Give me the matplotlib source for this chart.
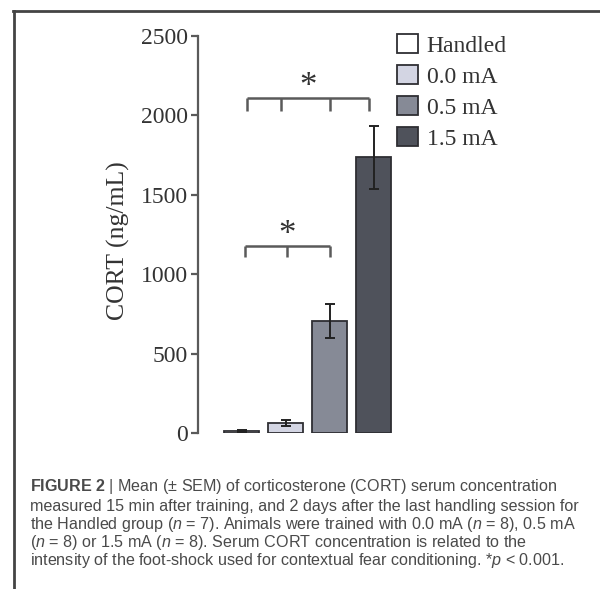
import matplotlib
matplotlib.use("Agg")
import matplotlib.pyplot as plt
from matplotlib.lines import Line2D

groups = ["Handled", "0.0 mA", "0.5 mA", "1.5 mA"]
means = [10, 65, 705, 1735]
sems = [6, 18, 105, 200]
colors = ["#ffffff", "#d3d5e3", "#868a96", "#4f525b"]
yticks = [0, 500, 1000, 1500, 2000, 2500]

caption_lines = [
    r"$\bf{FIGURE\ 2}$ | Mean (± SEM) of corticosterone (CORT) serum concentration",
    "measured 15 min after training, and 2 days after the last handling session for",
    r"the Handled group ($n$ = 7). Animals were trained with 0.0 mA ($n$ = 8), 0.5 mA",
    r"($n$ = 8) or 1.5 mA ($n$ = 8). Serum CORT concentration is related to the",
    r"intensity of the foot-shock used for contextual fear conditioning. *$p$ < 0.001.",
]

serif = ["Liberation Serif", "DejaVu Serif"]
plt.rcParams["mathtext.fontset"] = "custom"
plt.rcParams["mathtext.rm"] = "Liberation Sans"
plt.rcParams["mathtext.it"] = "Liberation Sans:italic"
plt.rcParams["mathtext.bf"] = "Liberation Sans:bold"

W, H = 600, 589
fig = plt.figure(figsize=(6, 5.89), dpi=100)
ax = fig.add_axes([198 / W, 1 - 433 / H, (400 - 198) / W, (433 - 36) / H])

x = list(range(len(groups)))
bars = ax.bar(x, means, width=0.8, color=colors, edgecolor="#2e2e33", linewidth=1.3,
              yerr=sems, error_kw=dict(ecolor="#222222", elinewidth=1.4, capsize=3.5, capthick=1.4),
              zorder=2)

ax.set_xlim(-1.0, 3.6)
ax.set_ylim(0, 2500)
for s in ["top", "right", "bottom"]:
    ax.spines[s].set_visible(False)
ax.spines["left"].set_color("#5a5a5a")
ax.spines["left"].set_linewidth(1.6)
ax.set_xticks([])
ax.set_yticks(yticks)
ax.set_yticklabels([str(v) for v in yticks], fontfamily=serif, fontsize=17, color="#333333")
ax.tick_params(axis="y", direction="out", length=5, width=1.6, color="#5a5a5a", pad=2)

fig.text(118 / W, 1 - 241 / H, "CORT (ng/mL)", rotation=90, ha="center", va="center",
         fontfamily=serif, fontsize=18.5, color="#333333")

# significance brackets
br_col = "#5a5a5a"
low_x = [0.08, 1.03, 2.0]
low_y, low_tip = 1180, 1110
up_x = [0.12, 0.89, 2.0, 2.9]
up_y, up_tip = 2108, 2030
for xs, yy, tip in [(low_x, low_y, low_tip), (up_x, up_y, up_tip)]:
    ax.plot([xs[0], xs[-1]], [yy, yy], color=br_col, lw=1.8, solid_capstyle="butt", clip_on=False)
    for xv in xs:
        ax.plot([xv, xv], [yy, tip], color=br_col, lw=1.8, solid_capstyle="butt", clip_on=False)
ax.text(sum(low_x) / 3, 1140, "*", ha="center", va="bottom", fontsize=25,
        fontfamily=serif, color="#333333")
ax.text((up_x[0] + up_x[-1]) / 2, 2070, "*", ha="center", va="bottom", fontsize=25,
        fontfamily=serif, color="#333333")

# legend
handles = [plt.Rectangle((0, 0), 1, 1, facecolor=c, edgecolor="#2e2e33", linewidth=1.3) for c in colors]
leg = fig.legend(handles, groups, loc="upper left", bbox_to_anchor=(397 / W, 1 - 34 / H),
                 frameon=False, borderpad=0, borderaxespad=0, handlelength=0.9, handleheight=0.85,
                 handletextpad=0.35, labelspacing=0.36, prop=dict(family=serif, size=17))
for t in leg.get_texts():
    t.set_color("#333333")

# border lines
fig.add_artist(Line2D([14 / W, 14 / W], [0, 1 - 11 / H], color="#444444", lw=2.0, transform=fig.transFigure))
fig.add_artist(Line2D([13 / W, 1.0], [1 - 11 / H, 1 - 11 / H], color="#444444", lw=2.0, transform=fig.transFigure))

# caption
ys = [487, 506, 524, 542, 560]
for line, yy in zip(caption_lines, ys):
    fig.text(30 / W, 1 - yy / H, line, ha="left", va="center", fontfamily="Liberation Sans",
             fontsize=11.6, color="#4a4a4a")

fig.savefig("out.png", dpi=100, facecolor="white")
